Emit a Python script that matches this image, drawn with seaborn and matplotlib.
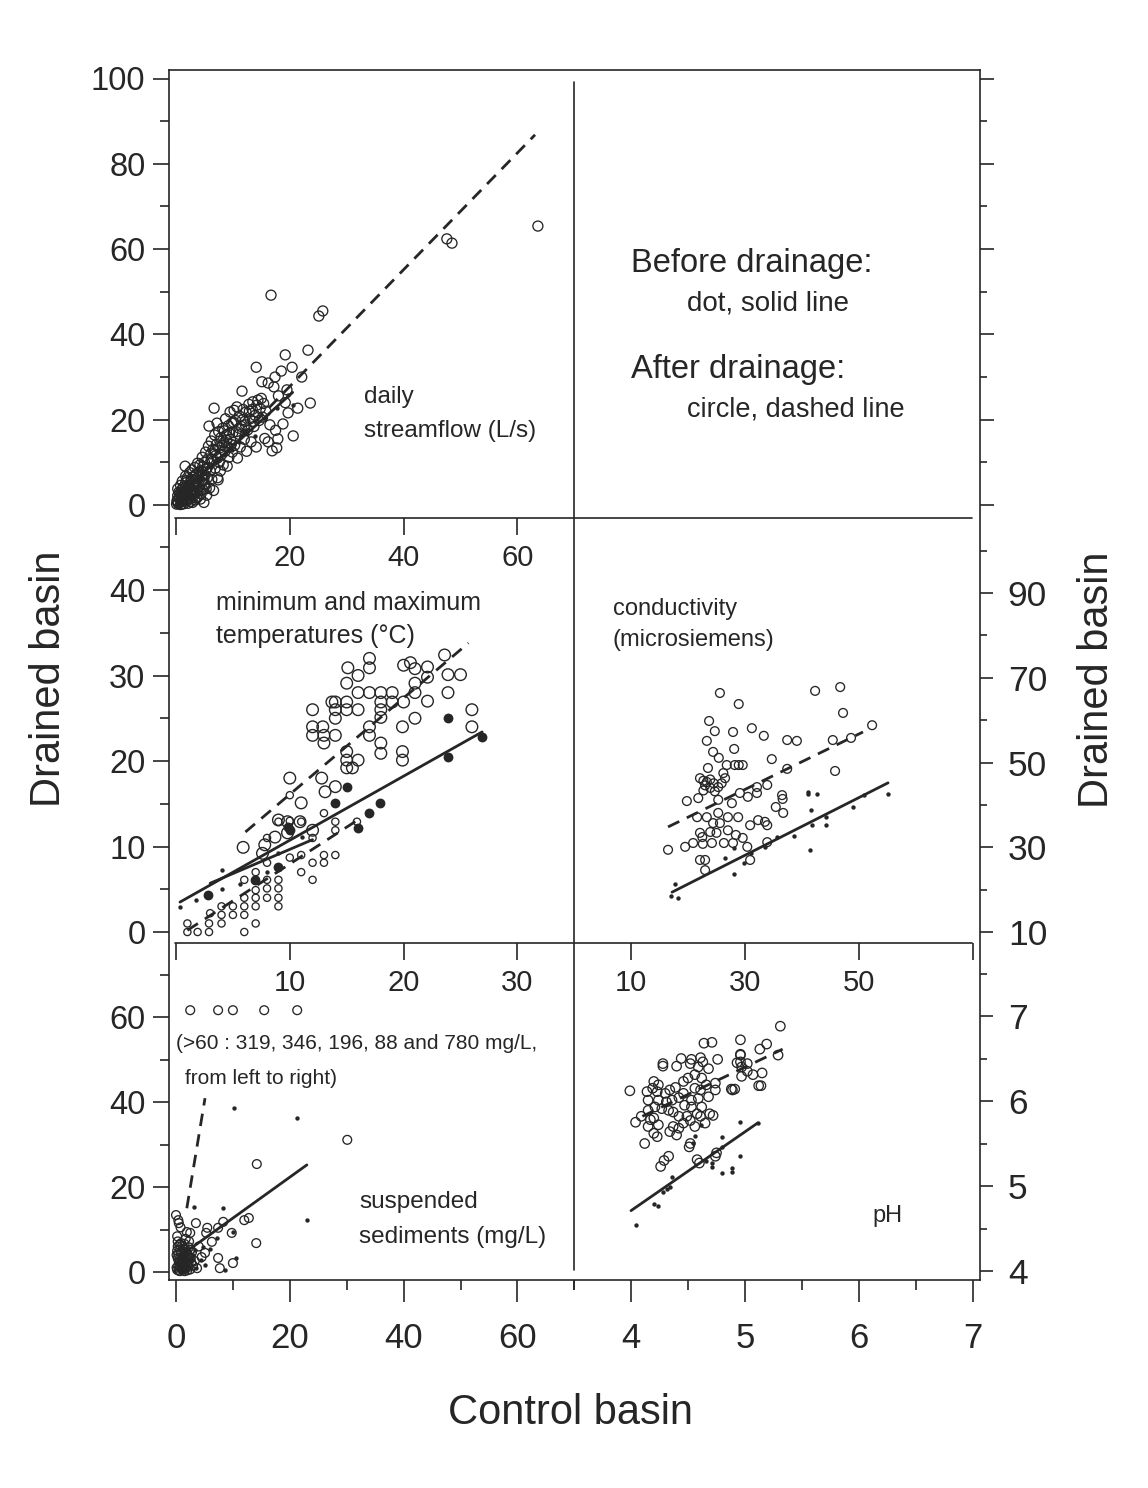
import matplotlib
matplotlib.use("Agg")
import matplotlib.pyplot as plt
from matplotlib.lines import Line2D
import seaborn as sns

# ---------------------------------------------------------------
# values (control basin x, drained basin y)
# ---------------------------------------------------------------

# daily streamflow (L/s)
flow_after_x = [0.1, 0.2, 0.3, 0.4, 0.5, 0.6, 0.8, 0.9, 1.0, 1.1, 1.2, 1.3, 1.4, 1.5,
                1.6, 1.7, 1.8, 1.9, 2.0, 2.1, 2.2, 2.3, 2.4, 2.5, 2.6, 2.7, 2.8, 2.9, 3.0,
                3.1, 3.2, 3.3, 3.4, 3.5, 3.6, 3.7, 3.8, 3.9, 4.0, 4.1, 4.2, 4.3, 4.4, 4.5, 4.6, 4.7, 4.8, 4.9, 5.0,
                5.1, 5.2, 5.3, 5.4, 5.5, 5.6, 5.7, 5.8, 5.9, 6.0, 6.1, 6.2, 6.3, 6.4, 6.5, 6.6, 6.7, 6.8, 6.9, 7.0,
                7.1, 7.2, 7.3, 7.4, 7.5, 7.6, 7.7, 7.8, 7.9, 8.0, 8.2, 8.3, 8.4, 8.6, 8.7, 8.8, 9.0, 9.1, 9.2, 9.3,
                9.5, 9.6, 9.8, 9.9, 10.0, 10.2, 10.3, 10.5, 10.7, 10.8, 11.0, 11.2, 11.3, 11.5, 11.6, 11.8, 12.0, 12.1,
                12.3, 12.4, 12.6, 12.8, 13.0, 13.2, 13.4, 13.5, 13.7, 13.9, 14.1, 14.2, 14.4, 14.6, 14.8, 15.0, 15.2, 15.4, 15.6, 15.8,
                14.1, 15.1, 16.2, 16.2, 16.5, 16.7, 16.9, 17.2, 17.4, 17.7, 17.9, 18.0, 18.5, 18.8, 19.2,
                19.2, 19.5, 19.7, 20.4, 20.6, 21.4, 22.1, 23.2, 23.6, 25.1, 25.8, 47.6, 48.5, 63.6, 17.5,
                0.2, 0.4, 0.6, 0.7, 0.9, 1.0, 1.2, 1.3, 1.5, 1.6, 1.8, 1.9, 2.1, 2.3, 2.5, 2.7, 2.9, 3.1, 3.3, 3.5,
                3.7, 3.9, 4.1, 4.3, 4.5, 4.7, 4.9, 5.1, 5.3, 5.5, 0.3, 0.8, 1.1, 1.7, 2.0, 2.6, 3.0, 3.6, 4.4, 5.0,
                6.2, 6.8, 7.3, 7.7, 8.1, 8.5, 8.9, 9.4, 9.7, 10.1, 10.6, 11.1, 11.7, 12.2, 12.9, 13.6]
flow_after_y = [0.2, 1.1, 2.2, 0.5, 3.0, 1.5, 0.1, 2.4, 3.6, 0.8, 1.8, 4.2, 0.3, 2.8,
                9.1, 5.2, 1.2, 3.6, 6.4, 0.4, 2.4, 4.6, 7.6, 1.5, 5.6, 3.0, 8.2, 0.6, 6.6,
                2.2, 4.4, 8.8, 1.2, 5.8, 7.4, 3.2, 9.8, 2.0, 6.6, 4.6, 9.4, 1.4, 8.0, 5.4, 11.2, 3.6, 7.0, 0.6, 10.0,
                4.8, 12.4, 8.4, 2.3, 6.4, 10.8, 13.8, 18.5, 4.0, 8.0, 12.0, 15.0, 6.0, 10.2, 13.0, 3.4, 22.7, 16.4, 8.6, 11.6,
                14.2, 19.2, 6.4, 5.9, 17.2, 10.0, 13.4, 8.0, 15.8, 11.8, 18.0, 9.4, 14.6, 12.6, 20.2, 16.4, 9.1, 13.6, 18.6, 11.2,
                21.8, 15.4, 19.2, 12.4, 17.0, 22.2, 14.0, 19.8, 23.0, 11.0, 16.6, 20.8, 13.6, 18.4, 26.7, 22.4, 15.4, 19.6,
                21.8, 12.6, 17.6, 23.6, 20.2, 14.8, 22.4, 24.2, 18.4, 21.0, 13.6, 23.4, 24.6, 19.8, 22.6, 25.0, 20.6, 23.8, 15.6, 22.0,
                32.3, 28.9, 28.6, 14.8, 18.8, 49.2, 12.7, 27.7, 30.0, 13.4, 15.5, 25.6, 31.4, 19.0, 35.2,
                24.0, 27.0, 21.6, 32.3, 16.2, 22.7, 30.0, 36.3, 23.9, 44.3, 45.5, 62.4, 61.4, 65.4, 17.5,
                0.8, 0.3, 1.9, 2.8, 1.2, 0.2, 2.1, 3.0, 1.4, 4.0, 2.6, 5.8, 3.9, 1.9, 3.4, 6.0, 4.6, 5.2, 3.0, 7.0,
                5.0, 4.2, 7.6, 3.4, 6.8, 9.0, 5.8, 7.0, 3.8, 8.8, 3.8, 4.6, 5.6, 6.8, 1.0, 0.8, 2.6, 1.6, 2.6, 5.0,
                10.8, 12.8, 11.0, 15.0, 14.0, 17.4, 15.2, 16.8, 14.2, 19.4, 17.2, 18.0, 20.0, 18.8, 22.0, 19.6]
flow_before_x = [0.3, 0.8, 1.5, 2.2, 3.0, 4.1, 5.0, 6.2, 7.4, 8.6, 9.8, 11.0, 12.4, 13.9, 15.6, 17.8, 19.6, 20.6]
flow_before_y = [0.4, 0.9, 2.0, 3.1, 3.8, 5.4, 7.6, 9.0, 10.5, 12.0, 13.0, 14.8, 16.6, 16.2, 20.3, 22.8, 25.8, 23.4]
flow_fit_before_x = [0.5, 20.5]
flow_fit_before_y = [2.4, 26.4]
flow_fit_after_x = [1.0, 63.1]
flow_fit_after_y = [1.8, 86.8]

# minimum and maximum temperatures (deg C)
tmax_after_x = [12.0, 12.0, 12.0, 12.9, 13.0, 13.0, 14.0, 14.0, 14.0, 14.0,
                15.1, 15.0, 15.0, 15.0, 16.0, 16.0, 16.0, 17.0, 17.0, 17.0,
                17.0, 17.0, 18.0, 18.0, 18.0, 18.0, 18.0, 18.0, 19.0, 19.0,
                20.0, 20.6, 21.0, 22.1, 22.1, 21.0, 21.0, 22.1, 20.0, 21.0,
                19.9, 19.9, 19.9, 23.6, 23.9, 25.0, 23.9, 26.0, 26.0, 15.0,
                15.0, 15.0, 15.5, 16.0, 14.0, 13.7, 10.0, 11.0, 12.8, 13.1,
                5.9, 9.0, 9.8, 8.7, 9.8, 10.9, 7.8, 7.6, 12.0]
tmax_after_y = [26.0, 24.0, 23.0, 24.0, 23.0, 22.1, 26.9, 26.0, 25.0, 23.0,
                30.9, 29.1, 26.9, 26.0, 30.0, 28.0, 26.0, 32.0, 30.9, 28.0,
                24.0, 23.0, 28.0, 26.9, 26.0, 25.1, 22.1, 20.9, 28.0, 26.9,
                31.2, 31.5, 30.8, 31.0, 29.8, 29.1, 28.0, 27.0, 26.9, 25.0,
                24.0, 21.1, 20.1, 32.4, 30.1, 30.1, 28.0, 26.0, 24.0, 21.1,
                20.1, 19.2, 19.2, 20.1, 17.0, 26.9, 18.0, 15.1, 18.0, 16.4,
                9.9, 13.1, 12.9, 11.1, 11.6, 12.9, 10.2, 9.2, 11.9]
tmin_after_x = [1.0, 1.0, 1.9, 2.9, 2.9, 4.0, 4.0, 4.0, 5.0, 5.0,
                6.0, 6.0, 6.0, 6.0, 6.0, 7.0, 7.0, 7.0, 7.0, 7.0,
                7.0, 8.0, 8.0, 8.0, 8.0, 8.0, 9.0, 9.0, 9.0, 9.0,
                9.0, 10.0, 10.0, 10.0, 11.0, 11.0, 11.0, 12.0, 12.0, 12.0,
                13.0, 13.0, 13.0, 14.0, 14.0, 14.0, 15.9, 3.0]
tmin_after_y = [1.0, 0.0, 0.0, 1.0, 0.0, 3.0, 2.0, 1.0, 3.0, 2.0,
                4.0, 3.0, 2.0, 0.0, 6.1, 1.0, 4.0, 3.0, 4.9, 6.1,
                7.0, 4.0, 5.1, 6.1, 8.1, 11.0, 3.0, 4.0, 5.1, 6.1,
                12.9, 8.7, 13.0, 16.0, 9.0, 7.0, 12.9, 8.1, 6.1, 11.0,
                9.0, 8.1, 13.9, 9.0, 12.9, 11.9, 12.9, 2.2]
tmax_before_x = [26.9, 23.9, 23.9, 15.0, 14.0, 17.9, 17.0, 16.0, 9.8, 10.0, 6.9, 2.8, 9.0]
tmax_before_y = [22.8, 25.0, 20.5, 17.0, 15.1, 15.1, 13.9, 12.2, 12.3, 11.9, 6.1, 4.3, 7.6]
tmin_before_x = [0.35, 1.8, 4.0, 4.0, 8.0, 9.0, 11.1, 5.6]
tmin_before_y = [2.9, 3.7, 7.3, 5.0, 7.0, 9.2, 11.1, 5.6]
tmax_fit_before_x = [0.35, 26.9]
tmax_fit_before_y = [3.5, 23.4]
tmin_fit_before_x = [3.0, 12.0]
tmin_fit_before_y = [5.7, 10.8]
tmax_fit_after_x = [6.1, 25.7]
tmax_fit_after_y = [11.7, 33.8]
tmin_fit_after_x = [1.0, 16.2]
tmin_fit_after_y = [0.2, 13.3]

# conductivity (microsiemens)
cond_after_x = [25.6, 28.9, 42.3, 46.7, 47.2, 52.3, 45.4, 48.6, 45.8, 23.7,
                24.7, 27.9, 31.2, 33.3, 37.4, 39.1, 23.3, 24.4, 25.4, 28.1,
                26.8, 28.2, 28.9, 29.6, 34.7, 37.4, 23.5, 22.1, 22.7, 23.3,
                23.9, 24.5, 23.0, 23.9, 24.7, 22.7, 25.3, 25.9, 26.5, 26.2,
                19.8, 21.8, 25.3, 27.7, 29.1, 30.5, 32.1, 32.1, 33.9, 36.5,
                36.6, 35.4, 36.7, 21.6, 23.3, 25.3, 27.0, 28.8, 24.4, 25.6,
                30.9, 32.3, 33.5, 33.9, 22.1, 23.9, 25.0, 27.0, 28.4, 29.6,
                19.5, 20.9, 22.5, 22.6, 24.2, 26.3, 27.9, 30.4, 33.9, 16.5,
                22.1, 23.0, 23.0, 30.9]
cond_after_y = [66.4, 63.8, 66.9, 67.8, 61.7, 58.8, 55.3, 55.8, 48.0, 59.8,
                57.4, 57.2, 58.1, 56.3, 55.3, 55.1, 55.1, 52.5, 51.1, 53.2,
                49.4, 49.4, 49.4, 49.4, 50.8, 48.5, 48.7, 46.3, 45.7, 45.4,
                46.0, 45.1, 44.6, 44.0, 43.2, 43.4, 44.2, 45.1, 46.3, 47.5,
                40.9, 41.6, 41.2, 40.4, 42.8, 41.9, 42.8, 44.2, 44.7, 42.3,
                41.4, 39.5, 38.1, 37.1, 37.1, 38.1, 37.1, 37.1, 35.7, 35.7,
                35.2, 36.4, 36.0, 35.2, 33.4, 33.6, 33.4, 34.0, 32.9, 32.2,
                30.1, 31.0, 32.4, 30.8, 31.0, 31.0, 31.0, 30.1, 31.2, 29.4,
                27.0, 27.0, 24.6, 27.0]
cond_before_x = [17.7, 17.0, 18.2, 28.1, 29.8, 28.1, 33.5, 35.6, 38.6, 41.4,
                 41.8, 41.6, 44.2, 44.2, 41.1, 41.1, 42.6, 48.9, 50.9, 55.1,
                 31.0, 26.5]
cond_before_y = [21.3, 18.5, 18.0, 23.7, 26.3, 29.8, 30.1, 32.4, 32.7, 29.4,
                 35.2, 38.8, 35.2, 37.1, 43.0, 42.6, 42.6, 39.5, 42.3, 42.6,
                 28.6, 27.4]
cond_fit_before_x = [17.2, 55.1]
cond_fit_before_y = [19.4, 45.2]
cond_fit_after_x = [16.5, 50.7]
cond_fit_after_y = [34.8, 57.2]

# suspended sediments (mg/L)
sed_after_x = [30.1, 14.2, 14.1, 12.0, 12.8, 10.0, 9.8, 8.3, 7.4, 5.5,
               5.3, 6.3, 3.5, 5.1, 7.4, 7.7, 3.7, 0.0, 0.4, 0.5,
               0.8, 1.9, 2.5, 2.3, 2.5, 0.2, 0.4, 0.6, 0.8, 1.0,
               1.2, 1.4, 1.6, 1.8, 2.0, 0.3, 0.5, 0.9, 1.3, 1.5,
               2.2, 2.6, 3.0, 0.1, 0.7, 1.1, 2.8, 3.3, 1.7, 0.2,
               4.0, 4.5,
               0.1, 0.3, 0.5, 0.7, 0.9, 1.1, 1.3, 1.5, 1.7, 1.9,
               2.1, 2.3, 2.5, 2.7, 0.2, 0.4, 0.6, 0.8, 1.0, 1.2,
               1.4, 1.6, 1.8, 2.0, 2.2, 0.3, 0.7, 1.1, 1.5, 2.4]
sed_after_y = [31.1, 25.4, 6.8, 12.2, 12.7, 2.1, 9.2, 11.8, 10.4, 10.4,
               9.2, 7.1, 11.5, 4.5, 3.3, 0.9, 0.9, 13.4, 12.2, 11.5,
               10.5, 9.4, 9.2, 7.2, 5.2, 0.5, 1.5, 3.0, 4.5, 0.8,
               2.2, 5.5, 1.2, 3.4, 0.4, 6.0, 2.4, 6.8, 3.8, 0.2,
               2.0, 3.2, 1.5, 4.0, 1.0, 4.8, 4.6, 2.6, 7.8, 8.4,
               6.0, 3.5,
               1.0, 3.2, 0.3, 5.2, 2.0, 6.2, 0.9, 3.0, 4.6, 1.8,
               3.8, 5.8, 0.6, 2.2, 5.0, 4.2, 6.4, 2.6, 1.6, 3.6,
               0.6, 5.4, 2.4, 4.4, 1.2, 7.2, 0.2, 1.0, 6.6, 3.4]
# off-scale values, drawn in a row just above 60
sed_high_x = [2.5, 7.4, 10.0, 15.5, 21.3]
sed_high_y = [319, 346, 196, 88, 780]
sed_before_x = [10.2, 21.3, 23.0, 3.2, 8.3, 10.0, 5.1, 8.6, 10.5, 4.4,
                7.2, 3.5, 4.7, 1.0, 2.0, 1.5, 3.0, 6.0, 0.5,
                0.8, 1.6, 2.4, 3.4, 1.2, 2.8]
sed_before_y = [38.6, 36.2, 12.2, 15.3, 15.1, 9.4, 1.6, 0.5, 3.3, 2.8,
                8.0, 0.9, 5.9, 1.0, 2.5, 0.5, 4.0, 5.5, 3.0,
                2.0, 4.2, 1.0, 5.2, 0.2, 3.0]
sed_fit_before_x = [1.5, 23.0]
sed_fit_before_y = [4.5, 25.2]
sed_fit_after_x = [1.9, 5.1]
sed_fit_after_y = [15.0, 40.9]

# pH
ph_after_x = [5.31, 4.96, 4.64, 4.71, 5.19, 5.13, 5.29, 4.96, 4.44, 4.53,
              4.61, 4.76, 4.28, 4.28, 4.40, 4.52, 4.59, 4.63, 4.68, 4.93,
              4.97, 5.02, 5.07, 5.15, 5.12, 5.02, 4.97, 4.88, 4.91, 4.20,
              4.24, 4.19, 4.23, 3.99, 4.14, 4.30, 4.34, 4.39, 4.46, 4.50,
              4.56, 4.62, 4.66, 4.61, 4.68, 4.74, 4.74, 4.56, 4.46, 4.42,
              4.36, 4.31, 4.53, 4.59, 4.47, 4.53, 4.62, 4.69, 4.72, 4.58,
              4.49, 4.42, 4.37, 4.33, 4.27, 4.21, 4.15, 4.24, 4.15, 4.09,
              4.04, 4.17, 4.20, 4.24, 4.15, 4.20, 4.12, 4.23, 4.46, 4.37,
              4.42, 4.34, 4.40, 4.52, 4.51, 4.58, 4.60, 4.75, 4.74, 4.33,
              4.29, 4.26, 4.52, 4.56, 4.61, 4.65, 4.96, 4.96, 5.14, 4.89]
ph_after_y = [6.88, 6.72, 6.68, 6.69, 6.67, 6.61, 6.54, 6.55, 6.50, 6.49,
              6.51, 6.49, 6.44, 6.41, 6.41, 6.44, 6.40, 6.46, 6.38, 6.45,
              6.40, 6.44, 6.31, 6.33, 6.18, 6.35, 6.29, 6.14, 6.14, 6.23,
              6.19, 6.15, 6.11, 6.12, 6.11, 6.09, 6.13, 6.16, 6.23, 6.27,
              6.31, 6.27, 6.19, 6.13, 6.05, 6.13, 6.21, 6.15, 6.09, 6.04,
              6.01, 5.99, 6.01, 6.03, 5.95, 5.93, 5.93, 5.85, 5.83, 5.85,
              5.82, 5.82, 5.87, 5.89, 5.91, 5.93, 6.01, 6.01, 5.89, 5.82,
              5.75, 5.78, 5.80, 5.72, 5.70, 5.62, 5.50, 5.58, 5.74, 5.70,
              5.68, 5.64, 5.60, 5.50, 5.46, 5.31, 5.27, 5.39, 5.35, 5.35,
              5.30, 5.23, 5.77, 5.70, 5.82, 5.74, 6.54, 6.46, 6.18, 6.13]
ph_before_x = [4.04, 4.20, 4.24, 4.28, 4.34, 4.36, 4.54, 4.56, 4.61, 4.71,
               4.71, 4.80, 4.80, 4.80, 4.89, 4.89, 4.96, 4.96, 5.11, 4.32, 4.66]
ph_before_y = [4.54, 4.79, 4.76, 4.93, 4.99, 5.11, 5.51, 5.59, 5.72, 5.27,
               5.22, 5.58, 5.46, 5.15, 5.21, 5.17, 5.75, 5.35, 5.74, 4.96, 5.30]
ph_fit_before_x = [4.0, 5.11]
ph_fit_before_y = [4.71, 5.74]
ph_fit_after_x = [4.1, 5.33]
ph_fit_after_y = [5.82, 6.61]

# ---------------------------------------------------------------
INK = "#262626"
W, H = 1148, 1488
SED_CAP = 61.6  # level where off-scale sediment values are drawn


def px_axes(fig, x0, x1, y0, y1):
    # axes placed in pixel units of the output image
    ax = fig.add_axes([x0 / W, 1 - y1 / H, (x1 - x0) / W, (y1 - y0) / H])
    ax.patch.set_visible(False)
    for sp in ax.spines.values():
        sp.set_visible(False)
    return ax


def map_x(ax, x0, x1, v0, p0, scale):
    ax.set_xlim(v0 + (x0 - p0) / scale, v0 + (x1 - p0) / scale)


def map_y(ax, y0, y1, v0, p0, scale):
    ax.set_ylim(v0 + (p0 - y1) / scale, v0 + (p0 - y0) / scale)


def circles(ax, x, y, s, lw=0.95):
    sns.scatterplot(x=x, y=y, ax=ax, s=s, marker="o", facecolor="none",
                    edgecolor=INK, linewidth=lw, zorder=3, legend=False)


def dots(ax, x, y, s=10):
    sns.scatterplot(x=x, y=y, ax=ax, s=s, marker="o", color=INK,
                    edgecolor=INK, linewidth=0, zorder=4, legend=False)


def fit(ax, x, y, dashed=False):
    sns.lineplot(x=x, y=y, ax=ax, color=INK, linewidth=2.0,
                 linestyle=(0, (4.5, 3)) if dashed else "-",
                 estimator=None, sort=False, errorbar=None, zorder=5, legend=False)


def ticks(ax, axis, side, major, minor, labels, size, maj_len, min_len, pad):
    a = ax.xaxis if axis == "x" else ax.yaxis
    a.set_ticks(major)
    a.set_ticks(minor, minor=True)
    a.set_ticklabels(labels if labels is not None else [""] * len(major))
    a.set_ticks_position(side)
    ax.tick_params(axis=axis, which="major", direction="out", length=maj_len, width=1.2,
                   color=INK, labelsize=size, labelcolor=INK, pad=pad)
    ax.tick_params(axis=axis, which="minor", direction="out", length=min_len, width=1.2,
                   color=INK)
    ax.set_xlabel("")
    ax.set_ylabel("")


def ftext(fig, x, y, s, size, **kw):
    fig.text(x / W, 1 - y / H, s, fontsize=size, color=INK, **kw)


def main():
    sns.set_style("white")
    plt.rcParams["font.family"] = ["Liberation Sans", "DejaVu Sans"]

    fig = plt.figure(figsize=(11.48, 14.88), dpi=100)

    # outer frame
    frame = px_axes(fig, 169, 980, 70, 1280)
    for sp in frame.spines.values():
        sp.set_visible(True)
        sp.set_linewidth(1.2)
        sp.set_color(INK)
    frame.set_xticks([])
    frame.set_yticks([])

    # inner dividers
    for y in (518, 943):
        fig.add_artist(Line2D([175 / W, 972 / W], [1 - y / H] * 2, color=INK, lw=1.2))
    fig.add_artist(Line2D([574 / W] * 2, [1 - 82 / H, 1 - 1270 / H], color=INK, lw=1.2))

    left_size, inner_size, bottom_size, right_size = 23.5, 21, 25, 25.5

    # --- streamflow (top left)
    ax = px_axes(fig, 169, 576, 70, 518)
    circles(ax, flow_after_x, flow_after_y, 52)
    dots(ax, flow_before_x, flow_before_y)
    fit(ax, flow_fit_after_x, flow_fit_after_y, dashed=True)
    fit(ax, flow_fit_before_x, flow_fit_before_y)
    map_x(ax, 169, 576, 0, 176, 5.69)
    map_y(ax, 70, 518, 0, 505, 4.265)
    ticks(ax, "y", "left", [0, 20, 40, 60, 80, 100], [10, 30, 50, 70, 90],
          ["0", "20", "40", "60", "80", "100"], left_size, 11.5, 6.5, 5.5)
    ticks(ax, "x", "bottom", [0, 20, 40, 60], [], ["", "20", "40", "60"], inner_size, 12, 0, 6.5)

    # --- legend text panel (top right), carries right-hand ticks
    ax = px_axes(fig, 573, 980, 70, 518)
    map_y(ax, 70, 518, 0, 505, 4.265)
    ticks(ax, "y", "right", [0, 20, 40, 60, 80, 100], [10, 30, 50, 70, 90], None, right_size, 10, 5, 10.5)
    ax.set_xticks([])

    # --- temperatures (middle left)
    ax = px_axes(fig, 169, 576, 518, 943)
    circles(ax, tmax_after_x, tmax_after_y, 70, lw=1.0)
    circles(ax, tmin_after_x, tmin_after_y, 27)
    dots(ax, tmax_before_x, tmax_before_y, s=50)
    dots(ax, tmin_before_x, tmin_before_y)
    fit(ax, tmax_fit_after_x, tmax_fit_after_y, dashed=True)
    fit(ax, tmin_fit_after_x, tmin_fit_after_y, dashed=True)
    fit(ax, tmax_fit_before_x, tmax_fit_before_y)
    fit(ax, tmin_fit_before_x, tmin_fit_before_y)
    map_x(ax, 169, 576, 0, 176, 11.38)
    map_y(ax, 518, 943, 0, 932, 8.55)
    ticks(ax, "y", "left", [0, 10, 20, 30, 40], [5, 15, 25, 35, 45],
          ["0", "10", "20", "30", "40"], left_size, 11.5, 6.5, 5.5)
    ticks(ax, "x", "bottom", [0, 10, 20, 30], [], ["", "10", "20", "30"], inner_size, 12, 0, 6.5)

    # --- conductivity (middle right)
    ax = px_axes(fig, 573, 980, 518, 943)
    circles(ax, cond_after_x, cond_after_y, 40)
    dots(ax, cond_before_x, cond_before_y)
    fit(ax, cond_fit_after_x, cond_fit_after_y, dashed=True)
    fit(ax, cond_fit_before_x, cond_fit_before_y)
    map_x(ax, 573, 980, 10, 631, 5.7)
    map_y(ax, 518, 943, 10, 932, 4.2375)
    ticks(ax, "y", "right", [10, 30, 50, 70, 90], [20, 40, 60, 80, 100],
          ["10", "30", "50", "70", "90"], right_size, 9.5, 5, 10.5)
    ticks(ax, "x", "bottom", [10, 30, 50, 70], [], ["10", "30", "50", ""], inner_size, 12, 0, 6.5)

    # --- suspended sediments (bottom left)
    ax = px_axes(fig, 169, 576, 943, 1280)
    circles(ax, sed_after_x, sed_after_y, 40)
    circles(ax, sed_high_x, [min(v, SED_CAP) for v in sed_high_y], 40)
    dots(ax, sed_before_x, sed_before_y)
    fit(ax, sed_fit_after_x, sed_fit_after_y, dashed=True)
    fit(ax, sed_fit_before_x, sed_fit_before_y)
    map_x(ax, 169, 576, 0, 176, 5.69)
    map_y(ax, 943, 1280, 0, 1272, 4.25)
    ticks(ax, "y", "left", [0, 20, 40, 60], [10, 30, 50, 70],
          ["0", "20", "40", "60"], left_size, 11.5, 6.5, 5.5)
    ticks(ax, "x", "bottom", [0, 20, 40, 60], [10, 30, 50, 70],
          ["0", "20", "40", "60"], bottom_size, 16, 7, 14)

    # --- pH (bottom right)
    ax = px_axes(fig, 573, 980, 943, 1280)
    circles(ax, ph_after_x, ph_after_y, 46)
    dots(ax, ph_before_x, ph_before_y)
    fit(ax, ph_fit_after_x, ph_fit_after_y, dashed=True)
    fit(ax, ph_fit_before_x, ph_fit_before_y)
    map_x(ax, 573, 980, 4, 631, 114)
    map_y(ax, 943, 1280, 4, 1271, 85)
    ticks(ax, "y", "right", [4, 5, 6, 7], [4.5, 5.5, 6.5, 7.5],
          ["4", "5", "6", "7"], right_size, 9.5, 5, 10.5)
    ticks(ax, "x", "bottom", [4, 5, 6, 7], [3.5, 4.5, 5.5, 6.5],
          ["4", "5", "6", "7"], bottom_size, 16, 7, 14)

    # panel annotations
    ftext(fig, 364, 403, "daily", 17.5, va="baseline")
    ftext(fig, 364, 437, "streamflow (L/s)", 17.5, va="baseline")
    ftext(fig, 631, 272, "Before drainage:", 23.5, va="baseline")
    ftext(fig, 687, 310, "dot, solid line", 20, va="baseline")
    ftext(fig, 631, 378, "After drainage:", 23.5, va="baseline")
    ftext(fig, 687, 417, "circle, dashed line", 19.5, va="baseline")
    ftext(fig, 216, 610, "minimum and maximum", 18, va="baseline")
    ftext(fig, 216, 643, "temperatures (°C)", 18, va="baseline")
    ftext(fig, 613, 615, "conductivity", 17, va="baseline")
    ftext(fig, 613, 646, "(microsiemens)", 17, va="baseline")
    ftext(fig, 176, 1049, "(>60 : 319, 346, 196, 88 and 780 mg/L,", 15, va="baseline")
    ftext(fig, 185, 1084, "from left to right)", 15, va="baseline")
    ftext(fig, 359, 1208, "suspended", 17.5, va="baseline")
    ftext(fig, 359, 1243, "sediments (mg/L)", 17.5, va="baseline")
    ftext(fig, 872, 1222, "pH", 17, va="baseline")

    # axis titles
    ftext(fig, 49, 679, "Drained basin", 30, rotation=90, ha="center", va="center")
    ftext(fig, 1097, 680, "Drained basin", 30, rotation=90, ha="center", va="center")
    ftext(fig, 571, 1424, "Control basin", 30, ha="center", va="baseline")

    fig.savefig("out.png", dpi=100, facecolor="white")
    plt.close(fig)


if __name__ == "__main__":
    main()
